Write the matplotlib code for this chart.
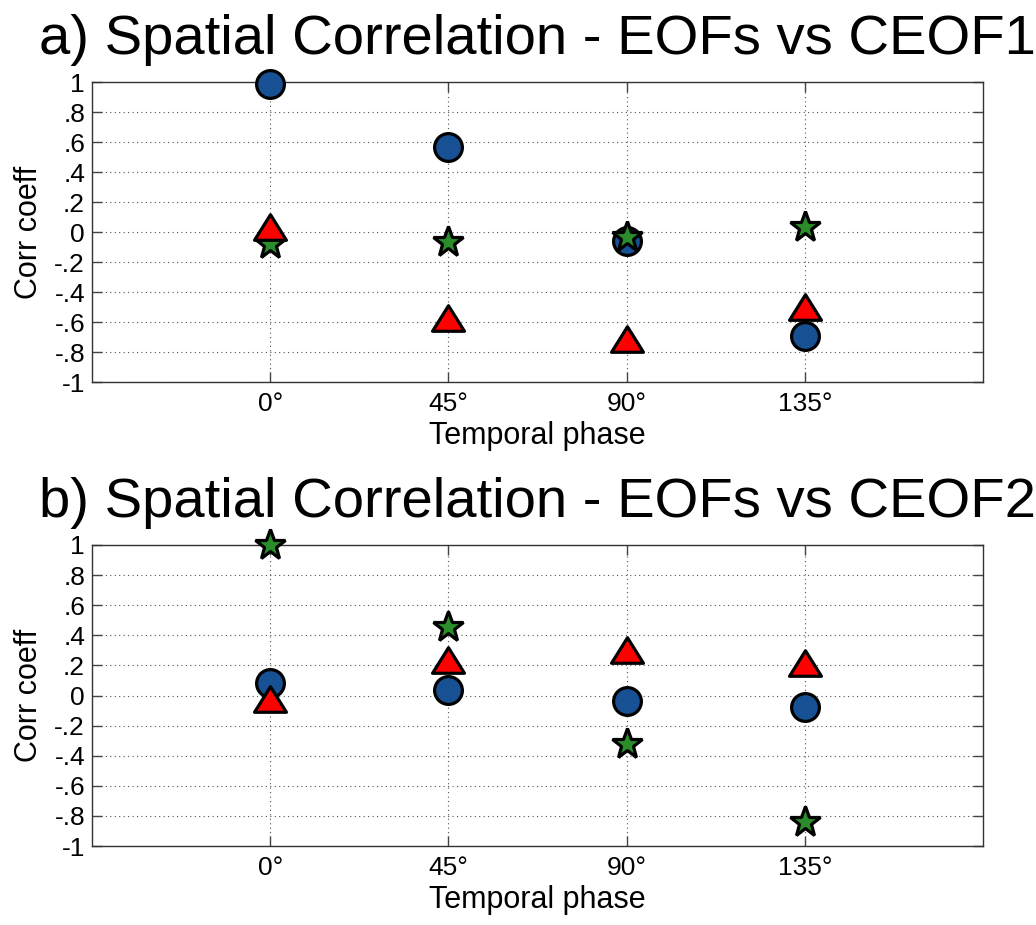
import matplotlib
matplotlib.use("Agg")
import matplotlib.pyplot as plt
import numpy as np
from matplotlib.path import Path

plt.rcParams['font.family'] = ['Liberation Sans', 'DejaVu Sans']

phases = ['0°', '45°', '90°', '135°']
yticks = [1, .8, .6, .4, .2, 0, -.2, -.4, -.6, -.8, -1]
ytick_labels = ['1', '.8', '.6', '.4', '.2', '0', '-.2', '-.4', '-.6', '-.8', '-1']

# panel a: EOFs vs CEOF1
a_eof1 = [0.99, 0.57, -0.06, -0.69]
a_eof2 = [-0.08, -0.065, -0.035, 0.035]
a_eof3 = [0.035, -0.57, -0.71, -0.50]
# panel b: EOFs vs CEOF2
b_eof1 = [0.085, 0.037, -0.034, -0.079]
b_eof2 = [1.0, 0.457, -0.322, -0.838]
b_eof3 = [-0.02, 0.236, 0.302, 0.214]

titles = ['a) Spatial Correlation - EOFs vs CEOF1',
          'b) Spatial Correlation - EOFs vs CEOF2']

blue = '#175194'
green = '#2a8c2a'
red = '#ff0000'

tri = Path([(0, 0.8), (-1, -0.8), (1, -0.8), (0, 0.8)],
           [Path.MOVETO, Path.LINETO, Path.LINETO, Path.CLOSEPOLY])

fig = plt.figure(figsize=(10.36, 9.25), dpi=100)
ax_a = fig.add_axes([92/1036, (925-382)/925, 891/1036, 300/925])
ax_b = fig.add_axes([92/1036, (925-846)/925, 891/1036, 301/925])

x = np.arange(1, len(phases) + 1)

for ax, e1, e2, e3, t in [(ax_a, a_eof1, a_eof2, a_eof3, titles[0]),
                          (ax_b, b_eof1, b_eof2, b_eof3, titles[1])]:
    ax.plot(x, e1, linestyle='none', marker='o', markersize=20,
            markerfacecolor=blue, markeredgecolor='black', markeredgewidth=2.3,
            clip_on=False, zorder=3)
    ax.plot(x, e2, linestyle='none', marker='*', markersize=23,
            markerfacecolor=green, markeredgecolor='black', markeredgewidth=2.3,
            clip_on=False, zorder=4)
    ax.plot(x, e3, linestyle='none', marker=tri, markersize=23,
            markerfacecolor=red, markeredgecolor='black', markeredgewidth=2.3,
            clip_on=False, zorder=5)
    ax.set_xlim(0, 5)
    ax.set_ylim(-1, 1)
    ax.set_xticks(x)
    ax.set_xticklabels(phases, fontsize=19)
    ax.set_yticks(yticks)
    ax.set_yticklabels(ytick_labels, fontsize=19)
    ax.tick_params(direction='in', length=7, width=1, color='#444444',
                   top=True, right=True)
    ax.tick_params(axis='x', pad=7)
    ax.tick_params(axis='y', pad=5)
    ax.grid(True, linestyle=(0, (1, 3)), color='#555555', linewidth=0.8)
    ax.set_axisbelow(True)
    for s in ax.spines.values():
        s.set_color('#333333')
        s.set_linewidth(1.0)
    ax.set_xlabel('Temporal phase', fontsize=22)
    ax.xaxis.set_label_coords(0.5, -0.13)
    ax.set_ylabel('Corr coeff', fontsize=22)
    ax.yaxis.set_label_coords(-0.054, 0.5)
    ax.set_title(t, fontsize=40.5, pad=20)

fig.savefig('out.png', dpi=100)
